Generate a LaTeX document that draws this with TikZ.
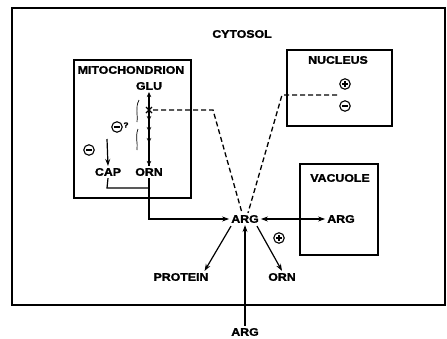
\documentclass[tikz,border=0pt]{standalone}
\usepackage{fontspec}
\newfontfamily\lab{Liberation Sans}[FakeStretch=1.12, BoldFeatures={FakeBold=1.6}]
\usetikzlibrary{arrows.meta,decorations.markings,calc}
\tikzset{
  lbl/.style={font=\lab\bfseries\fontsize{11}{11}\selectfont, inner sep=2pt},
  boxstyle/.style={draw, line width=2pt},
  arr/.style={line width=1.2pt, -{Stealth[length=7pt,width=5pt]}},
  conn/.style={line width=1.2pt},
  dashline/.style={line width=1.3pt, dash pattern=on 5pt off 3pt},
  circsign/.style={draw, circle, line width=1.1pt, minimum size=10.5pt, inner sep=0pt},
  plussign/.style={circsign, path picture={
     \draw[line width=1.1pt] ($(path picture bounding box.center)+(-3,0)$) -- ++(6,0);
     \draw[line width=1.1pt] ($(path picture bounding box.center)+(0,-3)$) -- ++(0,6);}},
  minussign/.style={circsign, path picture={
     \draw[line width=1.1pt] ($(path picture bounding box.center)+(-3,0)$) -- ++(6,0);}},
  tip/.style={-{Stealth[length=5pt,width=4.5pt]}}
}
\begin{document}
\begin{tikzpicture}[x=1pt,y=-1pt]
\useasboundingbox (0,0) rectangle (447,338);
% boxes
\draw[boxstyle] (12,8) rectangle (445,305);
\draw[boxstyle] (74,60) rectangle (191,198);
\draw[boxstyle] (287,50) rectangle (392,126);
\draw[boxstyle] (300,164) rectangle (378,255);
% labels
\node[lbl] (cyt) at (242,34) {CYTOSOL};
\node[lbl] (mito) at (131,70) {MITOCHONDRION};
\node[lbl] (glu) at (149,86) {GLU};
\node[lbl] (orn1) at (149,172) {ORN};
\node[lbl] (cap) at (108,172) {CAP};
\node[lbl] (nuc) at (338,60) {NUCLEUS};
\node[lbl] (vac) at (340,178) {VACUOLE};
\node[lbl] (argv) at (341,219) {ARG};
\node[lbl] (arg) at (245,219) {ARG};
\node[lbl] (prot) at (181,277) {PROTEIN};
\node[lbl] (orn2) at (282,277) {ORN};
\node[lbl] (argb) at (245,332) {ARG};
% signs
\node[minussign] (m1) at (89,150) {};
\node[minussign] (m2) at (117,127) {};
\node[lbl, font=\lab\bfseries\fontsize{7.5}{7.5}\selectfont, inner sep=0pt] (q) at (126,125) {?};
\node[plussign] (p1) at (345,84) {};
\node[minussign] (m3) at (345,106) {};
\node[plussign] (p2) at (279,238) {};
% GLU - ORN pathway
\coordinate (xx) at (149,110);
\draw[conn, tip] (xx) -- (glu.south);
\draw[conn] (xx) -- (orn1.north);
\foreach \y in {121,132,143} {\draw[conn, tip] (149,\y-6) -- (149,\y);}
\draw[conn, tip] (149,150) -- (orn1.north);
\draw[line width=1.2pt] (146,107) -- (152,113) (146,113) -- (152,107);
% wavy marks
\draw[line width=0.7pt] (139,100) .. controls (135,108) and (138,114) .. (137,122);
\draw[line width=0.7pt] (138,129) .. controls (135,137) and (138,143) .. (137,150);
% CAP arrow
\coordinate (capt) at (107,139);
\draw[arr] (capt) -- (cap.north);
% dashed regulation lines
\draw[dashline] (153,110) -- (213,110) -- ($(arg.north)+(-3,0)$);
\draw[dashline] (337,95) -- (282,95) -- ($(arg.north)+(3,0)$);
% CAP/ORN to ARG
\coordinate (capb) at (107,188);
\draw[conn] (cap.south) -- (capb) -- (149,188);
\draw[arr] (orn1.south) |- (arg.west);
% ARG exchanges
\draw[conn, {Stealth[length=7pt,width=5pt]}-{Stealth[length=7pt,width=5pt]}] (arg.east) -- (argv.west);
\draw[arr] ($(arg.south)+(-14,1)$) -- ($(prot.north east)+(-6,0)$);
\draw[arr] ($(arg.south)+(12,1)$) -- (orn2.north);
\draw[arr] (argb.north) -- (arg.south);
\end{tikzpicture}
\end{document}
